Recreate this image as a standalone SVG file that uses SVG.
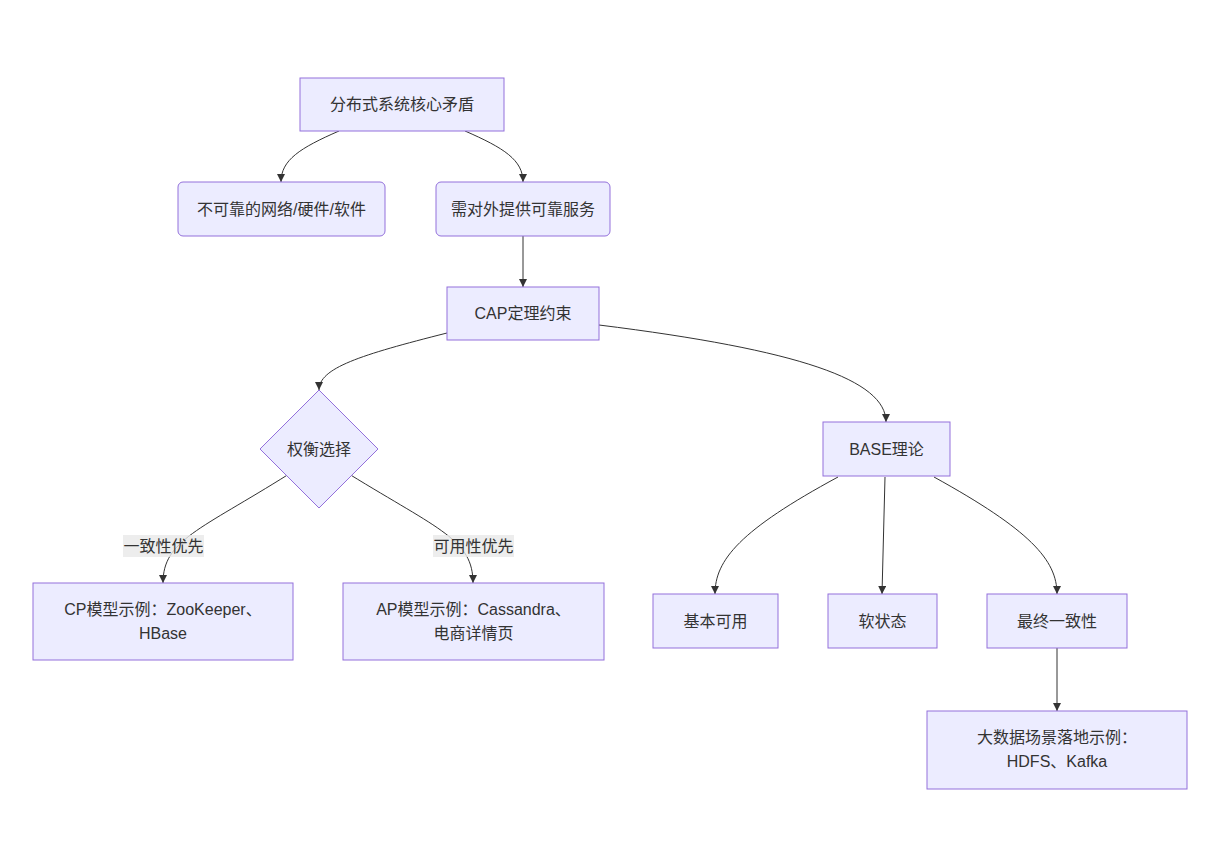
<svg xmlns="http://www.w3.org/2000/svg" width="1212" height="850" viewBox="0 0 1212 850">
<defs>
<style>
.node rect, .node polygon { fill: #ECECFF; stroke: #9370DB; stroke-width: 1; }
.node text, .label text { font-family: "Liberation Sans", "Noto Sans CJK SC", sans-serif; font-size: 16px; fill: #333; text-anchor: middle; dominant-baseline: central; }
.edges path { fill: none; stroke: #333; stroke-width: 1; }
.lbg { fill: #E8E8E8; fill-opacity: 0.8; }
</style>
<marker id="arr" viewBox="0 0 10 10" refX="10" refY="5" markerWidth="8" markerHeight="8" markerUnits="userSpaceOnUse" orient="auto">
<path d="M0,0 L10,5 L0,10 z" fill="#333"/>
</marker>
</defs>
<rect width="1212" height="850" fill="#ffffff"/>
<g class="edges">
<path d="M339,131 C300,148 281,160 281,182" marker-end="url(#arr)"/>
<path d="M465,131 C504,148 523,160 523,182" marker-end="url(#arr)"/>
<path d="M523,236 L523,287" marker-end="url(#arr)"/>
<path d="M447,333 C360,355 319,368 319,390" marker-end="url(#arr)"/>
<path d="M599,325 C800,350 886,380 886,422" marker-end="url(#arr)"/>
<path d="M289,474 C200,530 163,540 163,583" marker-end="url(#arr)"/>
<path d="M349,474 C440,530 473,540 473,583" marker-end="url(#arr)"/>
<path d="M838,477 C740,530 715,560 715,594" marker-end="url(#arr)"/>
<path d="M885,477 L882,594" marker-end="url(#arr)"/>
<path d="M934,477 C1030,530 1057,560 1057,594" marker-end="url(#arr)"/>
<path d="M1057,648 L1057,711" marker-end="url(#arr)"/>
</g>
<g class="label" id="label-cp">
<rect class="lbg" x="123" y="535" width="81" height="22"/>
<text x="163.5" y="546">一致性优先</text>
</g>
<g class="label" id="label-ap">
<rect class="lbg" x="433" y="535" width="81" height="22"/>
<text x="473.5" y="546">可用性优先</text>
</g>
<g class="node" id="nodeA">
<rect x="300" y="78" width="204" height="53"/>
<text x="402" y="104.5">分布式系统核心矛盾</text>
</g>
<g class="node" id="nodeB">
<rect x="178" y="182" width="207" height="54" rx="5" ry="5"/>
<text x="281.5" y="209">不可靠的网络/硬件/软件</text>
</g>
<g class="node" id="nodeC">
<rect x="436" y="182" width="174" height="54" rx="5" ry="5"/>
<text x="523" y="209">需对外提供可靠服务</text>
</g>
<g class="node" id="nodeD">
<rect x="447" y="287" width="152" height="53"/>
<text x="523" y="313.5">CAP定理约束</text>
</g>
<g class="node" id="nodeE">
<polygon points="319,390 378,449 319,508 260,449"/>
<text x="319" y="449">权衡选择</text>
</g>
<g class="node" id="nodeF">
<rect x="823" y="422" width="127" height="54"/>
<text x="886.5" y="449">BASE理论</text>
</g>
<g class="node" id="nodeG">
<rect x="33" y="583" width="260" height="77"/>
<text x="163" y="609">CP模型示例：ZooKeeper、</text>
<text x="163" y="633">HBase</text>
</g>
<g class="node" id="nodeH">
<rect x="343" y="583" width="261" height="77"/>
<text x="473.5" y="609">AP模型示例：Cassandra、</text>
<text x="473.5" y="633">电商详情页</text>
</g>
<g class="node" id="nodeI">
<rect x="653" y="594" width="125" height="54"/>
<text x="715.5" y="621">基本可用</text>
</g>
<g class="node" id="nodeJ">
<rect x="828" y="594" width="109" height="54"/>
<text x="882.5" y="621">软状态</text>
</g>
<g class="node" id="nodeK">
<rect x="987" y="594" width="140" height="54"/>
<text x="1057" y="621">最终一致性</text>
</g>
<g class="node" id="nodeL">
<rect x="927" y="711" width="260" height="78"/>
<text x="1057" y="737">大数据场景落地示例：</text>
<text x="1057" y="761">HDFS、Kafka</text>
</g>
</svg>
